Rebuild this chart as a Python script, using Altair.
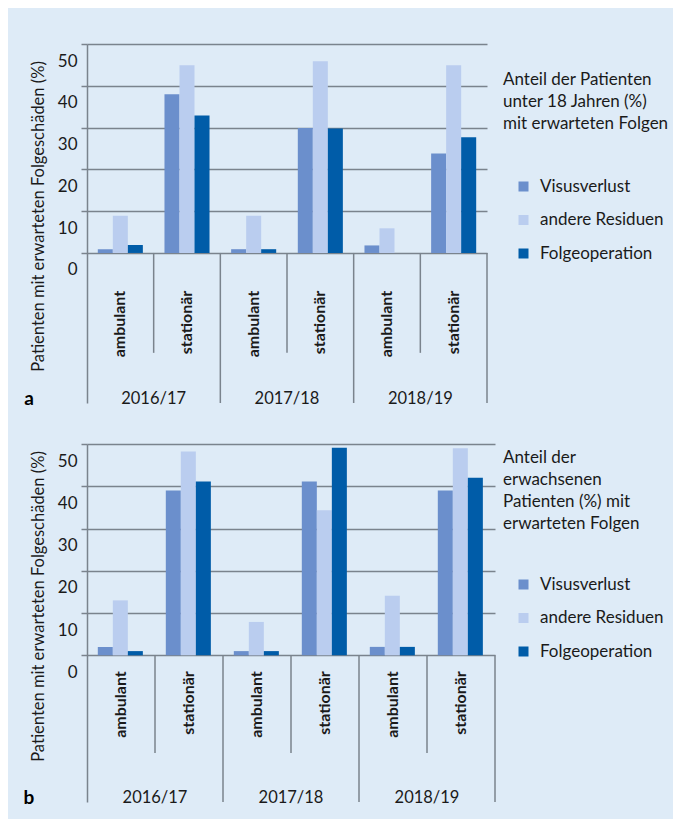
import altair as alt
import pandas as pd

years = ["2016/17", "2017/18", "2018/19"]
types = ["ambulant", "stationär"]
series = ["Visusverlust", "andere Residuen", "Folgeoperation"]
colors = ["#6b8fcc", "#bacdef", "#005ca8"]

# panel a: Patienten unter 18 Jahren (order: 16/17 amb, 16/17 stat, 17/18 amb, 17/18 stat, 18/19 amb, 18/19 stat)
a_visus = [0.9, 38.0, 0.9, 29.9, 1.8, 23.8]
a_andere = [8.9, 44.9, 8.9, 45.9, 5.9, 44.9]
a_folge = [1.9, 32.9, 0.9, 29.8, 0.0, 27.7]

# panel b: erwachsene Patienten
b_visus = [2.0, 39.0, 1.0, 41.1, 2.0, 39.0]
b_andere = [13.0, 48.2, 7.9, 34.3, 14.1, 49.0]
b_folge = [1.0, 41.1, 1.0, 49.1, 2.0, 42.0]

a_title = ["Anteil der Patienten", "unter 18 Jahren (%)", "mit erwarteten Folgen"]
b_title = ["Anteil der", "erwachsenen", "Patienten (%) mit", "erwarteten Folgen"]
y_title = "Patienten mit erwarteten Folgeschäden (%)"
y_ticks = [0, 10, 20, 30, 40, 50]

cats = [f"{y}|{t}" for y in years for t in types]

GRID = "#7a838d"
TXT = "#1a1a1a"
FONT = "Lato"


def panel(vals, width, height, ymin, short_bottom, type_y, year_y, title_y,
          legend_y, legend_title, title_pad, letter):
    rows = []
    for s, v in zip(series, vals):
        for c, val in zip(cats, v):
            rows.append({"cat": c, "series": s, "value": val, "base": 0})
    df = pd.DataFrame(rows)

    xscale = alt.Scale(domain=cats, paddingInner=0, paddingOuter=0)
    yscale = alt.Scale(domain=[ymin, 50], nice=False, zero=False)
    yaxis = alt.Axis(
        values=y_ticks, grid=True, gridColor=GRID, gridWidth=1.5,
        domainColor=GRID, domainWidth=1.5, tickColor=GRID, tickWidth=1.5,
        tickSize=6, labelFontSize=17, labelColor=TXT, labelPadding=4,
        labelOffset=17, labelFont=FONT,
        title=y_title, titleFont=FONT, titleFontSize=16.5, titleFontWeight="normal",
        titleColor=TXT, titleAngle=270, titleAlign="center", titleBaseline="middle",
        titleX=-49, titleY=title_y)

    bars = alt.Chart(df).mark_bar().encode(
        x=alt.X("cat:N", scale=xscale, axis=None),
        xOffset=alt.XOffset("series:N", sort=series,
                            scale=alt.Scale(domain=series, paddingOuter=0.72, paddingInner=0)),
        y=alt.Y("value:Q", scale=yscale, axis=yaxis),
        y2=alt.Y2("base:Q"),
        color=alt.Color("series:N", sort=series,
                        scale=alt.Scale(domain=series, range=colors),
                        legend=alt.Legend(
                            title=legend_title, orient="none", legendX=416, legendY=legend_y,
                            titleFont=FONT, titleFontSize=17, titleFontWeight="normal",
                            titleColor=TXT, titleLineHeight=22, titlePadding=title_pad,
                            labelFont=FONT, labelFontSize=17, labelColor=TXT,
                            symbolType="square", symbolSize=100, symbolStrokeWidth=0,
                            symbolOpacity=1, symbolOffset=12, labelOffset=8,
                            rowPadding=15.5)),
    )

    # separators below baseline
    sep_left = pd.DataFrame({
        "cat": ["2016/17|stationär", "2017/18|ambulant", "2017/18|stationär",
                "2018/19|ambulant", "2018/19|stationär"],
        "value": [0] * 5,
        "bottom": [short_bottom, ymin, short_bottom, ymin, short_bottom],
    })
    sep_right = pd.DataFrame({"cat": ["2018/19|stationär"], "value": [0], "bottom": [ymin]})

    rules_l = alt.Chart(sep_left).mark_rule(color=GRID, strokeWidth=1.5).encode(
        x=alt.X("cat:N", scale=xscale, axis=None, bandPosition=0),
        y=alt.Y("value:Q", scale=yscale, axis=yaxis),
        y2="bottom:Q",
    )
    rules_r = alt.Chart(sep_right).mark_rule(color=GRID, strokeWidth=1.5).encode(
        x=alt.X("cat:N", scale=xscale, axis=None, bandPosition=1),
        y=alt.Y("value:Q", scale=yscale, axis=yaxis),
        y2="bottom:Q",
    )

    type_df = pd.DataFrame({"cat": cats, "label": [t for y in years for t in types],
                            "value": [type_y] * len(cats)})
    type_text = alt.Chart(type_df).mark_text(
        angle=270, align="right", baseline="middle", font=FONT, fontSize=16,
        fontWeight="bold", color=TXT, dx=4).encode(
        x=alt.X("cat:N", scale=xscale, axis=None),
        y=alt.Y("value:Q", scale=yscale, axis=yaxis),
        text="label:N",
    )

    year_df = pd.DataFrame({"cat": [f"{y}|stationär" for y in years], "label": years,
                            "value": [year_y] * len(years)})
    year_text = alt.Chart(year_df).mark_text(
        align="center", baseline="middle", font=FONT, fontSize=16.5, color=TXT).encode(
        x=alt.X("cat:N", scale=xscale, axis=None, bandPosition=0),
        y=alt.Y("value:Q", scale=yscale, axis=yaxis),
        text="label:N",
    )

    letter_df = pd.DataFrame({"label": [letter], "value": [year_y]})
    letter_text = alt.Chart(letter_df).mark_text(
        align="center", baseline="middle", font=FONT, fontSize=19, fontWeight="bold",
        color="#000000").encode(
        x=alt.value(-58),
        y=alt.Y("value:Q", scale=yscale, axis=yaxis),
        text="label:N",
    )

    return alt.layer(bars, rules_l, rules_r, type_text, year_text, letter_text).properties(
        width=width, height=height)


pa = panel([a_visus, a_andere, a_folge], 400, 359, -35.9, -23.9, -10.0, -34.9, 172,
           28, a_title, 45, "a")
pb = panel([b_visus, b_andere, b_folge], 408, 358, -34.7, -23.1, -4.7, -33.8, 162,
           6, b_title, 43, "b")

chart = alt.vconcat(pa, pb, spacing=34).resolve_scale(
    color="independent", x="independent", y="independent"
).configure(
    background="#deebf7", font=FONT, padding={"left": 15, "top": 35, "right": 4, "bottom": 10}
).configure_view(strokeWidth=0)

chart.save("out.html", embed_options={"renderer": "svg", "actions": False})
